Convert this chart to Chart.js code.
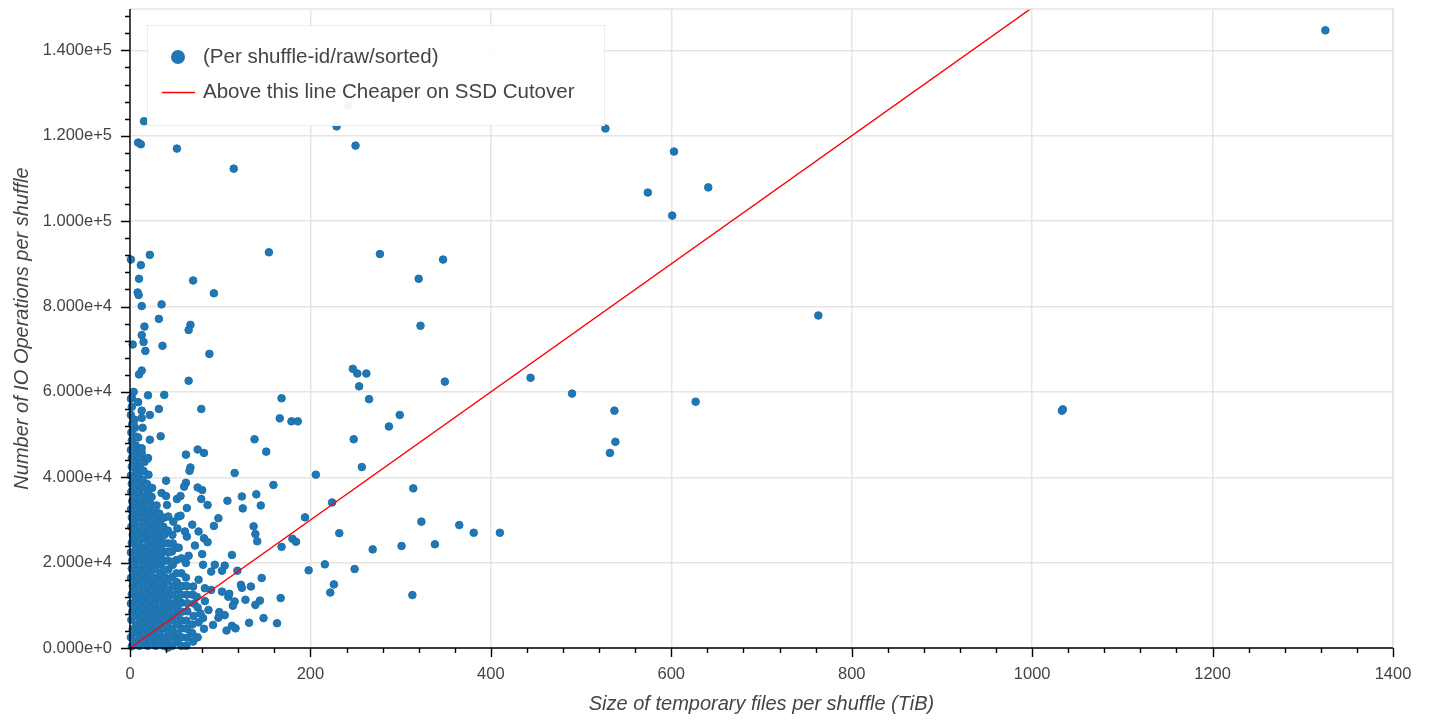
<!DOCTYPE html>
<html>
<head>
<meta charset="utf-8">
<title>IO operations vs temporary file size per shuffle</title>
<script src="https://cdn.jsdelivr.net/npm/chart.js@4/dist/chart.umd.min.js"></script>
<style>
  html, body { margin: 0; padding: 0; background: #fff; }
  #wrap { width: 1440px; height: 720px; }
</style>
</head>
<body>
<div id="wrap"><canvas id="chartCanvas" width="1440" height="720"></canvas></div>
<script>
// axis ticks
const xTicks = [0, 200, 400, 600, 800, 1000, 1200, 1400];
const yTicks = [0, 20000, 40000, 60000, 80000, 100000, 120000, 140000];
const xMinorStep = 40;
const yMinorStep = 4000;
const yMax = 149700;

// cutover line: above it SSD is cheaper
const cutoverX = [0, 1000];
const cutoverY = [0, 150000];

// [size TiB, IO ops]
const farPoints = [
  [1325, 144700], [527, 121700], [603, 116300], [574, 106700], [641, 107900], [601, 101300],
  [763, 77900], [1033, 55600], [1034, 55900], [444, 63300], [490, 59600], [537, 55600],
  [627, 57700], [538, 48300], [532, 45700]
];

const highPoints = [
  [347, 91000], [320, 86500], [322, 75500], [277, 92300], [242, 127100], [229, 122200],
  [250, 117700], [15.5, 123400], [9, 118400], [12, 118000], [52, 117000], [115, 112300],
  [154, 92700], [22, 92100], [1, 91000], [12, 89700], [10, 86500], [8.5, 83300], [9.6, 82700],
  [13, 80100], [35, 80500], [70, 86100], [93, 83100], [32, 77100], [67, 75700], [65, 74500],
  [16, 75300], [13, 73300], [3, 71100], [15, 71700], [36, 70800], [17, 69600], [88, 68900],
  [13, 65000], [10, 64100], [65, 62600], [247, 65400], [252, 64300], [262, 64300], [254, 61300],
  [265, 58300], [299, 54600], [287, 51900], [349, 62400]
];

const midPoints = [
  [168, 58500], [166, 53800], [179, 53100], [186, 53100], [138, 48900], [151, 46000], [248, 48900],
  [257, 42400], [206, 40600], [116, 41000], [159, 38200], [314, 37400], [224, 34100], [194, 30600],
  [323, 29600], [365, 28800], [381, 27000], [410, 27000], [232, 26900], [338, 24300], [301, 23900],
  [269, 23100], [198, 18200], [216, 19600], [249, 18500], [226, 14900], [222, 13000], [313, 12400],
  [180, 25600], [184, 24900], [168, 23700], [137, 28500], [139, 26700], [141, 25000], [124, 35500],
  [125, 32700], [140, 36000], [145, 33400], [108, 34500],
  [4, 60000], [20, 59200], [38, 59300], [2, 58600], [9, 57600], [13, 55600], [32, 56000], [79, 56000],
  [22, 54600], [5, 53500], [13, 53900], [14, 51600], [4, 52300], [9, 49300], [22, 48800], [34, 49600],
  [4, 47200], [13, 46800], [13, 45700], [20, 44500], [62, 45300], [75, 46500], [82, 45700], [67, 42300],
  [66, 41500], [2, 42500], [19, 44300]
];

const lowPoints = [
  [40, 39200], [62, 38700], [60, 37800], [75, 37600], [80, 37000], [35, 36300], [40, 35600], [52, 34900],
  [56, 35600], [79, 34900], [86, 33500], [63, 32800], [41, 33500], [31, 31400], [56, 31000], [98, 30400],
  [69, 28900], [93, 28600], [76, 27300], [82, 25700], [86, 24800], [113, 21800], [63, 26100], [54, 23500],
  [44, 22600], [65, 21600], [46, 20200], [62, 19900], [80, 22000], [81, 19500], [94, 19500], [105, 19300],
  [90, 17900], [102, 18100], [119, 18100], [146, 16400], [123, 14800], [134, 14400], [167, 11700],
  [83, 14000], [90, 13600], [102, 13200], [109, 12000], [128, 11300], [139, 10100], [144, 11100],
  [148, 7000], [132, 5900], [163, 5800], [68, 3400], [107, 4100], [113, 5200], [117, 4600], [92, 5400],
  [105, 7700], [98, 7100], [78, 8100], [87, 8900], [42, 100], [116, 10900], [114, 9900], [99, 8400],
  [110, 12700], [124, 14100]
];

const clusterPoints = [
  [2, 400], [1, 2500], [3, 4400], [1.5, 6600], [2.5, 8500], [1, 10400], [2, 12600], [3, 14500], [1, 16400],
  [2, 18600], [2.5, 20500], [1, 22400], [2, 24600], [3, 26500], [1.5, 28400], [2, 30600], [1, 32500],
  [2.5, 34400], [1.5, 36600], [2, 38500], [1, 40400], [3, 42600], [2, 44500], [1, 46400], [2, 48600],
  [1.5, 50500], [2.5, 52400], [1, 54600], [2, 56500], [1, 58400],
  [6, 1500], [5, 3600], [7, 5400], [6, 7500], [5.5, 9600], [6.5, 11400], [5, 13500], [7, 15600], [6, 17400],
  [5, 19500], [6.5, 21600], [7, 23400], [5.5, 25500], [6, 27600], [5, 29400], [7, 31500], [6, 33600],
  [5.5, 35400], [6.5, 37500], [5, 39600], [7, 41400], [6, 43500], [5, 45600], [6.5, 47400], [7, 49500],
  [5.5, 51600],
  [10.5, 500], [11, 2600], [10, 4400], [11.5, 6500], [10, 8600], [10.5, 10400], [11, 12500], [9.5, 14600],
  [10.5, 16400], [11, 18500], [10, 20600], [11.5, 22400], [10, 24500], [10.5, 26600], [11, 28400],
  [9.5, 30500], [10.5, 32600], [11, 34400], [10, 36500], [11.5, 38600], [10, 40400], [10.5, 42500],
  [11, 44600], [10, 46400],
  [15, 1500], [14.5, 3400], [15.5, 5500], [15, 7600], [16, 9400], [14.5, 11500], [15, 13600], [15.5, 15400],
  [14, 17500], [15, 19600], [16, 21400], [15, 23500], [14.5, 25600], [15.5, 27400], [15, 29500],
  [16, 31600], [14.5, 33400], [15, 35500], [15.5, 37600], [14, 39400], [15, 41500], [16, 43600],
  [19.5, 500], [20, 2400], [19, 4600], [20.5, 6500], [19.5, 8400], [19, 10600], [20, 12500], [20.5, 14400],
  [19, 16600], [19.5, 18500], [20, 20400], [19, 22600], [20.5, 24500], [19.5, 26400], [20, 28600],
  [19, 30500], [20.5, 32400], [19.5, 34600], [20, 36500], [19, 38400], [20.5, 40600],
  [24, 1500], [23.5, 3600], [24.5, 5400], [24, 7500], [25, 9600], [23.5, 11400], [24, 13500], [24.5, 15600],
  [23, 17400], [24, 19500], [25, 21600], [24, 23400], [23.5, 25500], [24.5, 27600], [24, 29400],
  [25, 31500], [23.5, 33600], [24, 35400], [24.5, 37500],
  [28.5, 500], [29, 2600], [28, 4400], [29.5, 6500], [28.5, 8600], [28, 10400], [29, 12500], [28.5, 14600],
  [29.5, 16400], [28, 18500], [29, 20600], [28.5, 24500], [29, 26600], [28, 30500], [29.5, 33400],
  [33, 1500], [32.5, 3400], [33.5, 5500], [33, 7600], [34, 9400], [32.5, 11500], [33, 13600], [33.5, 17500],
  [33, 19600], [34, 21400], [32.5, 25600], [33.5, 27400], [33, 29500],
  [37.5, 500], [38, 2400], [37, 4600], [38.5, 6500], [37.5, 8400], [38, 12500], [37, 14400], [38.5, 16600],
  [37.5, 20400], [38, 22600], [37, 28400],
  [42, 1500], [42.5, 3600], [41.5, 5400], [42, 7500], [43, 9600], [42, 13500], [41.5, 15600], [42.5, 18400],
  [42, 24500],
  [47, 500], [47.5, 2600], [46.5, 4400], [47, 6500], [48, 10400], [47, 12500], [46.5, 16600], [47.5, 19500],
  [47, 26500],
  [52, 1500], [52.5, 3400], [51.5, 7600], [52, 9400], [53, 13600], [52, 15400], [51.5, 20600],
  [57, 500], [57.5, 4600], [56.5, 6500], [57, 10600], [58, 14500], [57, 17500],
  [63, 2400], [62.5, 6400], [63.5, 8600], [63, 12500], [62, 16500],
  [70, 1500], [69, 5500], [71, 10400], [70, 14400], [72, 24000]
];

// extra points where the cluster reads as solid colour
const clusterFill = [
  [28.5, 22600], [29, 28600], [28, 32300], [33, 15600], [33.5, 23400], [32.5, 31500],
  [37.5, 10600], [38, 18400], [37, 24600], [38, 26500], [37.5, 30500],
  [42, 11500], [41.5, 20500], [42.5, 22400], [42, 27500],
  [47, 8500], [47.5, 14500], [46.5, 22600], [47.5, 24500],
  [52, 5500], [52.5, 11500], [51.5, 17500], [52, 23500], [52.5, 28000],
  [57, 2500], [57.5, 8500], [56.5, 12500], [57, 21000],
  [62.5, 500], [63, 4500], [63.5, 10500], [63, 14500],
  [69, 3500], [70.5, 7500], [69.5, 12500],
  [75, 2500], [76, 6000], [75, 9500], [74, 12000], [76, 16000],
  [82, 4500], [81, 7000], [83, 11000],
  [42.4, 30800], [53.6, 30800], [48, 29600], [35, 28500], [61, 27300]
];

const legendLabels = ['(Per shuffle-id/raw/sorted)', 'Above this line Cheaper on SSD Cutover'];

const FONT = '"Liberation Sans", Arial, sans-serif';
const TEXT = '#444444';
const DOT = '#1f77b4';

const shufflePoints = [...clusterPoints, ...clusterFill, ...lowPoints, ...midPoints, ...highPoints, ...farPoints]
  .map(([x, y]) => ({ x, y }));
const cutoverPoints = cutoverX.map((x, i) => ({ x, y: cutoverY[i] }));

// bokeh-like axes: black spine, outward major + minor ticks, grey frame
const axesPlugin = {
  id: 'axesPlugin',
  afterDraw(chart) {
    const { ctx, chartArea: a, scales: { x, y } } = chart;
    ctx.save();
    ctx.strokeStyle = '#e5e5e5';
    ctx.lineWidth = 1.5;
    ctx.beginPath();
    ctx.moveTo(a.left, a.top);
    ctx.lineTo(a.right, a.top);
    ctx.lineTo(a.right, a.bottom);
    ctx.stroke();

    ctx.strokeStyle = '#000';
    ctx.lineWidth = 1.4;
    ctx.beginPath();
    ctx.moveTo(a.left, a.top);
    ctx.lineTo(a.left, a.bottom);
    ctx.lineTo(a.right, a.bottom);
    for (let v = 0; v <= x.max; v += xMinorStep) {
      const px = Math.round(x.getPixelForValue(v)) + 0.5;
      const len = v % 200 === 0 ? 9 : 5;
      ctx.moveTo(px, a.bottom);
      ctx.lineTo(px, a.bottom + len);
    }
    for (let v = 0; v <= y.max; v += yMinorStep) {
      const py = Math.round(y.getPixelForValue(v)) + 0.5;
      const len = v % 20000 === 0 ? 9 : 5;
      ctx.moveTo(a.left, py);
      ctx.lineTo(a.left - len, py);
    }
    ctx.stroke();
    ctx.restore();
  }
};

// legend box inside the plot, top left
const legendPlugin = {
  id: 'boxLegend',
  afterDatasetsDraw(chart) {
    const { ctx, chartArea: a } = chart;
    const bx = a.left + 17, by = a.top + 16, bw = 457, bh = 100;
    ctx.save();
    ctx.fillStyle = 'rgba(255,255,255,0.93)';
    ctx.fillRect(bx, by, bw, bh);
    ctx.strokeStyle = '#ececec';
    ctx.lineWidth = 1;
    ctx.strokeRect(bx + 0.5, by + 0.5, bw, bh);

    ctx.fillStyle = DOT;
    ctx.beginPath();
    ctx.arc(bx + 31, by + 32, 7, 0, Math.PI * 2);
    ctx.fill();

    ctx.strokeStyle = '#ff0000';
    ctx.lineWidth = 1.3;
    ctx.beginPath();
    ctx.moveTo(bx + 15, by + 67.5);
    ctx.lineTo(bx + 48, by + 67.5);
    ctx.stroke();

    ctx.fillStyle = TEXT;
    ctx.font = '20.5px ' + FONT;
    ctx.textBaseline = 'middle';
    ctx.textAlign = 'left';
    ctx.fillText(legendLabels[0], bx + 56, by + 32);
    ctx.fillText(legendLabels[1], bx + 56, by + 67);
    ctx.restore();
  }
};

const ctx = document.getElementById('chartCanvas').getContext('2d');
new Chart(ctx, {
  data: {
    datasets: [
      {
        type: 'line',
        label: legendLabels[1],
        data: cutoverPoints,
        borderColor: '#ff0000',
        borderWidth: 1.4,
        pointRadius: 0,
        fill: false,
        order: 0
      },
      {
        type: 'scatter',
        label: legendLabels[0],
        data: shufflePoints,
        backgroundColor: DOT,
        borderColor: '#1d71ad',
        borderWidth: 1,
        pointRadius: 3.8,
        clip: false,
        order: 1
      }
    ]
  },
  options: {
    responsive: false,
    animation: false,
    layout: { padding: { top: 9, right: 47, left: 0, bottom: 0 } },
    plugins: {
      legend: { display: false },
      tooltip: { enabled: false }
    },
    scales: {
      x: {
        type: 'linear',
        min: 0,
        max: 1400,
        afterFit: (s) => { s.height = 72; s.paddingLeft = 0; s.paddingRight = 0; },
        afterBuildTicks: (s) => { s.ticks = xTicks.map(v => ({ value: v })); },
        grid: { color: '#e5e5e5', lineWidth: 1.5, drawTicks: false },
        border: { display: false },
        ticks: {
          padding: 17,
          color: TEXT,
          font: { family: FONT, size: 16.5 },
          callback: (v) => String(v)
        },
        title: {
          display: true,
          text: 'Size of temporary files per shuffle (TiB)',
          color: TEXT,
          font: { family: FONT, size: 20, style: 'italic' },
          padding: { top: 0, bottom: 4 }
        }
      },
      y: {
        type: 'linear',
        min: 0,
        max: yMax,
        afterFit: (s) => { s.width = 130; s.paddingTop = 0; s.paddingBottom = 0; },
        afterBuildTicks: (s) => { s.ticks = yTicks.map(v => ({ value: v })); },
        grid: { color: '#e5e5e5', lineWidth: 1.5, drawTicks: false },
        border: { display: false },
        ticks: {
          padding: 18,
          color: TEXT,
          font: { family: FONT, size: 16.5 },
          callback: (v) => Number(v).toExponential(3)
        },
        title: {
          display: true,
          text: 'Number of IO Operations per shuffle',
          color: TEXT,
          font: { family: FONT, size: 20, style: 'italic' },
          padding: { top: 10, bottom: 0 }
        }
      }
    }
  },
  plugins: [axesPlugin, legendPlugin]
});
</script>
</body>
</html>
